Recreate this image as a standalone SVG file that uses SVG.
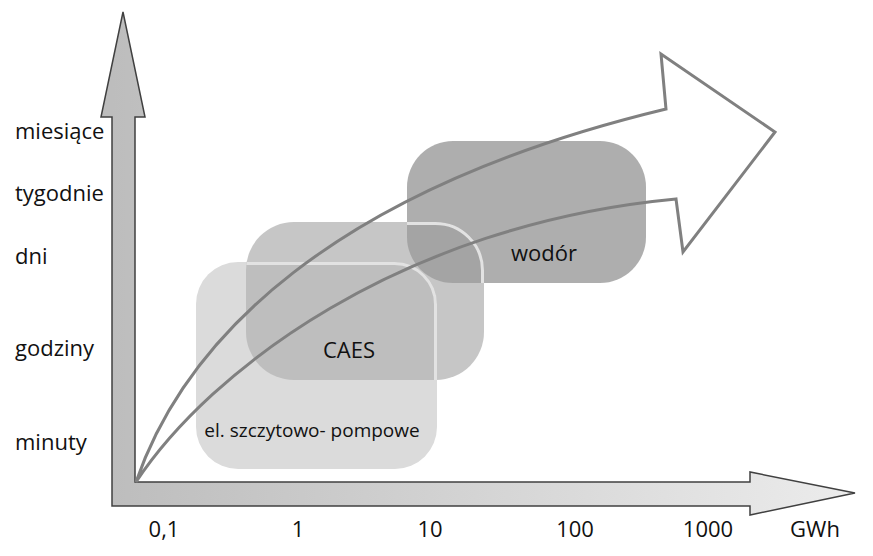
<svg xmlns="http://www.w3.org/2000/svg" width="873" height="556" viewBox="0 0 873 556">
<style>
.lbl{font-family:"Open Sans","Liberation Sans",sans-serif;font-size:22px;fill:#111}
.sm{font-size:19px}
.edge{fill:none;stroke:#e2e2e2;stroke-width:3}
.trend{fill:none;stroke:#808080;stroke-width:3;stroke-linejoin:miter}
</style>
<defs>
<linearGradient id="axg" gradientUnits="userSpaceOnUse" x1="112" y1="0" x2="855" y2="0">
<stop offset="0" stop-color="#bdbdbd"/>
<stop offset="1" stop-color="#ececec"/>
</linearGradient>
<clipPath id="clipCaes"><rect x="246" y="222" width="238" height="158" rx="48"/></clipPath>
<clipPath id="clipWod"><rect x="407" y="141" width="239" height="142" rx="46"/></clipPath>
</defs>
<rect width="873" height="556" fill="#fff"/>

<g id="axes">
<path d="M123,12 L145,117 L135,117 L135,482 L750,482 L750,472 L855,493 L750,515 L750,506 L112,506 L112,117 L101,117 Z" fill="url(#axg)" stroke="#404040" stroke-width="1.5" stroke-linejoin="miter"/>
</g>

<g id="y-labels">
<text class="lbl" x="15" y="139">miesiące</text>
<text class="lbl" x="15" y="201">tygodnie</text>
<text class="lbl" x="15" y="264">dni</text>
<text class="lbl" x="15" y="356">godziny</text>
<text class="lbl" x="15" y="450">minuty</text>
</g>
<g id="x-labels" text-anchor="middle">
<text class="lbl" x="164" y="537">0,1</text>
<text class="lbl" x="298" y="537">1</text>
<text class="lbl" x="430" y="537">10</text>
<text class="lbl" x="575" y="537">100</text>
<text class="lbl" x="708" y="537">1000</text>
<text class="lbl" x="815" y="537">GWh</text>
</g>

<g id="node-pompowe">
<rect x="196" y="262" width="241" height="207" rx="42" fill="#dbdbdb"/>
<text class="lbl sm" x="312" y="437" text-anchor="middle">el. szczytowo- pompowe</text>
</g>
<g id="node-caes">
<rect x="246" y="222" width="238" height="158" rx="48" fill="#b6b6b6" fill-opacity="0.78"/>
<rect class="edge" x="197.5" y="263.5" width="238" height="204" rx="41" clip-path="url(#clipCaes)"/>
<text class="lbl" x="349" y="358" text-anchor="middle">CAES</text>
</g>
<g id="node-wodor">
<rect x="407" y="141" width="239" height="142" rx="46" fill="#9c9c9c" fill-opacity="0.82"/>
<rect class="edge" x="247.5" y="223.5" width="235" height="155" rx="47" clip-path="url(#clipWod)" stroke="#c4c4c4"/>
<text class="lbl" x="544" y="261" text-anchor="middle">wodór</text>
</g>

<g id="connectors">
<path class="trend" d="M136,482 C185,340 330,190 666,109 L661,54 L775,132 L683,252 L676,199 C400,225 210,370 136,482 Z"/>
</g>
</svg>
